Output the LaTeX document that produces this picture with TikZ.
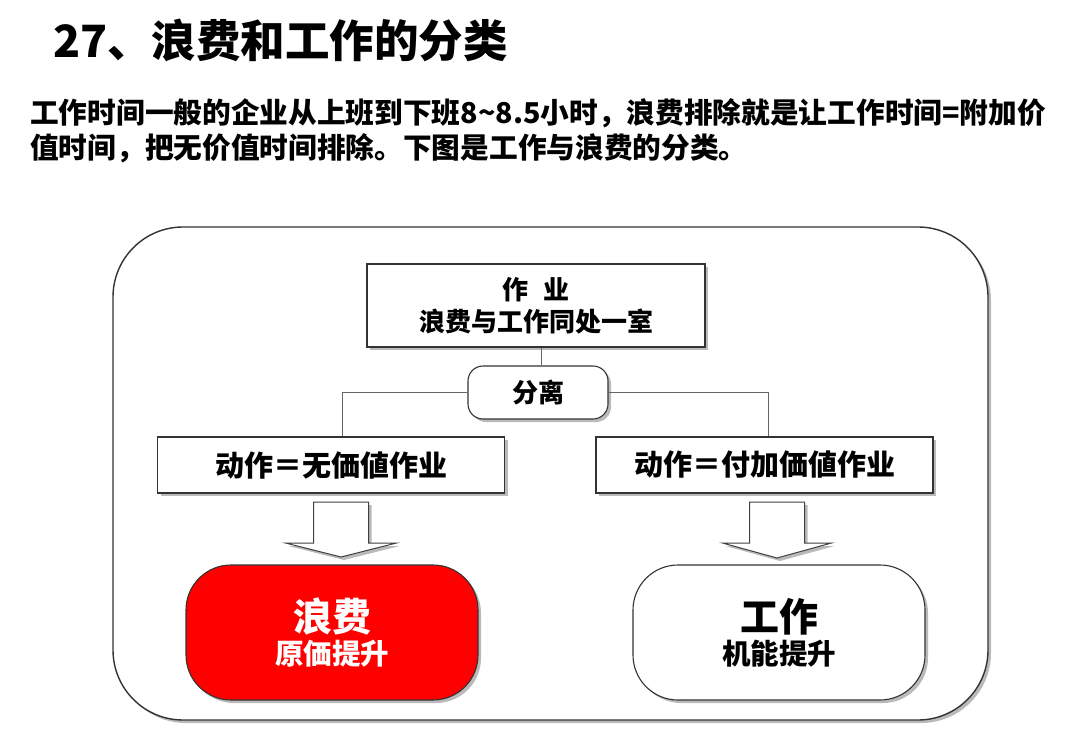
\documentclass[tikz,border=0pt]{standalone}
\usepackage{fontspec}
\setmainfont{Noto Sans CJK SC}
\usetikzlibrary{shadows,calc}
\begin{document}
\begin{tikzpicture}[x=1pt,y=-1pt,
  shd/.style={drop shadow={shadow xshift=3pt,shadow yshift=-3pt,opacity=0.45,fill=black!60}},
  box/.style={draw=black!80,line width=1.1pt,fill=white,shd,inner sep=0pt,align=center},
  conn/.style={draw=black!60,line width=1pt},
  blk/.style={draw=black!75,line width=1pt,fill=white,shd,line join=miter}
]
\useasboundingbox (0,0) rectangle (1080,739);
% title and text
\node[anchor=west,inner sep=0pt,font=\bfseries\fontsize{44.5}{50}\selectfont] (title) at (53,40) {27、浪费和工作的分类};
\node[anchor=north west,inner sep=0pt,align=left,font=\bfseries\fontsize{28.7}{35}\selectfont] (para) at (30,98)
  {工作时间一般的企业从上班到下班8\textasciitilde8.5小时，浪费排除就是让工作时间=附加价\\值时间，把无价值时间排除。下图是工作与浪费的分类。};
% outer frame
\node[box,line width=1.4pt,rounded corners=70pt,minimum width=875pt,minimum height=493pt] (O) at (550.5,473.5) {};
% boxes
\node[box,minimum width=338pt,minimum height=83pt,font=\bfseries\fontsize{26}{32}\selectfont] (T) at (536,305.5) {作\hspace{0.6em}业\\浪费与工作同处一室};
\node[box,rounded corners=15pt,minimum width=140pt,minimum height=53pt,font=\bfseries\fontsize{26}{30}\selectfont] (F) at (538,392.5) {分离};
\node[box,minimum width=347pt,minimum height=56pt,font=\bfseries\fontsize{29}{32}\selectfont] (L) at (331,465) {动作＝无価値作业};
\node[box,minimum width=337pt,minimum height=56pt,font=\bfseries\fontsize{29}{32}\selectfont] (R) at (764.5,465) {动作＝付加価値作业};
\node[box,fill=red,text=white,rounded corners=45pt,minimum width=292pt,minimum height=135pt] (W) at (332,632.5)
  {{\bfseries\fontsize{39}{42}\selectfont 浪费}\\[4pt]{\bfseries\fontsize{28.5}{32}\selectfont 原価提升}};
\node[box,rounded corners=45pt,minimum width=292pt,minimum height=135pt] (K) at (779,632.5)
  {{\bfseries\fontsize{39}{42}\selectfont 工作}\\[4pt]{\bfseries\fontsize{28.5}{32}\selectfont 机能提升}};
% connectors
\draw[conn] ([xshift=5pt]T.south) -- ([xshift=5pt]T.south |- F.north);
\draw[conn] (F.west) -| ([xshift=11pt]L.north);
\draw[conn] (F.east) -| ([xshift=3.5pt]R.north);
% block arrows
\coordinate (la) at (341,502);
\coordinate (ra) at (777,502);
\draw[blk] ($(la)+(-27.5,0)$) -- ++(0,41) -- ++(-28,0) -- ($(la)+(0,55)$) -- ($(la)+(55.5,41)$) -- ++(-28,0) -- ($(la)+(27.5,0)$) -- cycle;
\draw[blk] ($(ra)+(-27.5,0)$) -- ++(0,41) -- ++(-27,0) -- ($(ra)+(0,56)$) -- ($(ra)+(54.5,41)$) -- ++(-27,0) -- ($(ra)+(27.5,0)$) -- cycle;
\end{tikzpicture}
\end{document}
